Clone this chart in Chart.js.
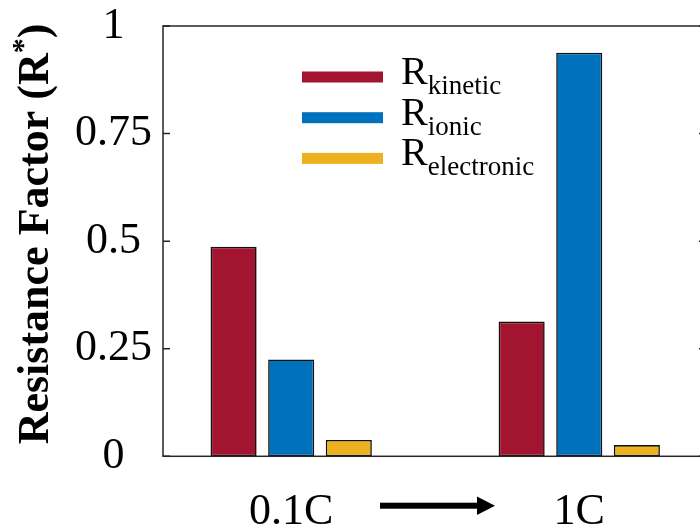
<!DOCTYPE html>
<html>
<head>
<meta charset="utf-8">
<script src="https://cdn.jsdelivr.net/npm/chart.js@4.4.1/dist/chart.umd.min.js"></script>
<style>
  html, body { margin: 0; padding: 0; background: #fff; overflow: hidden; }
  #wrap { position: relative; width: 720px; height: 526px; }
</style>
</head>
<body>
<div id="wrap"><canvas id="chart"></canvas></div>
<script>
// ── Data ───────────────────────────────────────────────────────────────────────
const CATEGORIES = ['0.1C', '1C'];
const R_KINETIC = [0.487, 0.313];
const R_IONIC = [0.225, 0.938];
const R_ELECTRONIC = [0.038, 0.026];
const SERIES_SUBS = ['kinetic', 'ionic', 'electronic'];
const Y_TICKS = [0, 0.25, 0.5, 0.75, 1];
const Y_TICK_LABELS = ['0', '0.25', '0.5', '0.75', '1'];

const COLORS = ['#A2142F', '#0072BD', '#EDB120'];
const AXIS_COLOR = '#262626';
const FONT = "'Liberation Serif', 'DejaVu Serif', serif";

function toPoints(vals) {
  return vals.map((v, i) => ({ x: i + 1, y: v }));
}

// ── Box, inward ticks, legend, y title and the arrow ───────────────────────────
const decorPlugin = {
  id: 'decor',
  afterDraw(chart) {
    const { ctx, chartArea: a, scales } = chart;
    ctx.save();

    // axes box with inward ticks on left and right
    ctx.strokeStyle = AXIS_COLOR;
    ctx.lineWidth = 1.5;
    ctx.strokeRect(a.left, a.top, a.right - a.left, a.bottom - a.top);
    for (const t of Y_TICKS) {
      const y = scales.y.getPixelForValue(t);
      ctx.beginPath();
      ctx.moveTo(a.left, y); ctx.lineTo(a.left + 7, y);
      ctx.moveTo(a.right, y); ctx.lineTo(a.right - 7, y);
      ctx.stroke();
    }

    // legend: swatch + R with subscript
    chart.data.datasets.forEach((ds, i) => {
      const cy = 77 + i * 40.7;
      ctx.fillStyle = ds.backgroundColor;
      ctx.fillRect(302, cy - 5.5, 81, 11);
      ctx.fillStyle = '#000';
      ctx.textBaseline = 'alphabetic';
      ctx.textAlign = 'left';
      ctx.font = `40px ${FONT}`;
      ctx.fillText('R', 401, cy + 7);
      const w = ctx.measureText('R').width;
      ctx.font = `27px ${FONT}`;
      ctx.fillText(SERIES_SUBS[i], 401 + w, cy + 17);
    });

    // y title with superscript asterisk
    ctx.translate(48, 234);
    ctx.rotate(-Math.PI / 2);
    ctx.fillStyle = '#000';
    ctx.textBaseline = 'alphabetic';
    ctx.textAlign = 'left';
    const main = 'Resistance Factor (R';
    ctx.font = `bold 44px ${FONT}`;
    const w1 = ctx.measureText(main).width;
    const w3 = ctx.measureText(')').width;
    ctx.font = `bold 30px ${FONT}`;
    const w2 = ctx.measureText('*').width;
    const x0 = -(w1 + w2 + w3) / 2;
    ctx.font = `bold 44px ${FONT}`;
    ctx.fillText(main, x0, 0);
    ctx.font = `bold 30px ${FONT}`;
    ctx.fillText('*', x0 + w1, -16);
    ctx.font = `bold 44px ${FONT}`;
    ctx.fillText(')', x0 + w1 + w2, 0);
    ctx.setTransform(1, 0, 0, 1, 0, 0);

    // arrow between the two rates
    ctx.fillStyle = '#000';
    ctx.fillRect(380, 502.7, 98, 6);
    ctx.beginPath();
    ctx.moveTo(477, 496.5);
    ctx.lineTo(495, 505.7);
    ctx.lineTo(477, 514.9);
    ctx.closePath();
    ctx.fill();

    ctx.restore();
  }
};

new Chart(document.getElementById('chart'), {
  type: 'bar',
  data: {
    datasets: [
      { label: 'R' + SERIES_SUBS[0], data: toPoints(R_KINETIC), backgroundColor: COLORS[0] },
      { label: 'R' + SERIES_SUBS[1], data: toPoints(R_IONIC), backgroundColor: COLORS[1] },
      { label: 'R' + SERIES_SUBS[2], data: toPoints(R_ELECTRONIC), backgroundColor: COLORS[2] },
    ].map(d => ({
      ...d,
      borderColor: '#111',
      borderWidth: 1.6,
      borderSkipped: false,
      categoryPercentage: 0.6,
      barPercentage: 0.8,
    })),
  },
  options: {
    responsive: true,
    maintainAspectRatio: false,
    animation: false,
    layout: { padding: { left: 0, right: 14, top: 26, bottom: 0 } },
    plugins: {
      legend: { display: false },
      tooltip: { enabled: false },
    },
    scales: {
      x: {
        type: 'linear',
        offset: false,
        min: 0.555,
        max: 2.44,
        afterBuildTicks: (scale) => { scale.ticks = CATEGORIES.map((c, i) => ({ value: i + 1 })); },
        afterFit: (scale) => { scale.height = 69.7; scale.paddingLeft = 0; scale.paddingRight = 0; },
        ticks: {
          callback: (v) => CATEGORIES[v - 1],
          font: { family: FONT, size: 44 },
          color: '#000',
          padding: 30,
          maxRotation: 0,
          autoSkip: false,
        },
        grid: { display: false, drawTicks: false },
        border: { display: false },
      },
      y: {
        min: 0,
        max: 1,
        afterFit: (scale) => { scale.width = 163; scale.paddingTop = 0; scale.paddingBottom = 0; },
        afterBuildTicks: (scale) => { scale.ticks = Y_TICKS.map(v => ({ value: v })); },
        ticks: {
          callback: (v) => Y_TICK_LABELS[Y_TICKS.indexOf(v)],
          font: { family: FONT, size: 44 },
          color: '#000',
          crossAlign: 'center',
          padding: 11,
        },
        grid: { display: false, drawTicks: false },
        border: { display: false },
      },
    },
  },
  plugins: [decorPlugin],
});
</script>
</body>
</html>
